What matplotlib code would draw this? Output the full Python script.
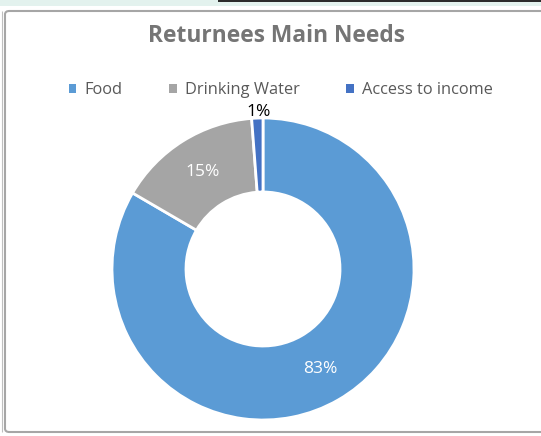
import matplotlib.pyplot as plt
from matplotlib.patches import FancyBboxPatch, Rectangle

# Data
categories = ["Food", "Drinking Water", "Access to income"]
shares = [83.4, 15.4, 1.2]
colors = ["#5B9BD5", "#A5A5A5", "#4472C4"]
label_colors = ["white", "white", "black"]

W, H = 541, 436
fig = plt.figure(figsize=(W / 100, H / 100), dpi=100)
plt.rcParams['font.family'] = ['Open Sans', 'DejaVu Sans']

# window chrome bits at the top
fig.patches.append(Rectangle((0, 1 - 6 / H), 1, 6 / H, transform=fig.transFigure,
                             facecolor="#E3F2EE", edgecolor="none", zorder=-2))
fig.patches.append(Rectangle((218 / W, 1 - 2 / H), 1, 2 / H, transform=fig.transFigure,
                             facecolor="#2B2B2B", edgecolor="none", zorder=-1))
# chart border
fig.patches.append(FancyBboxPatch((5 / W, 4 / H), 600 / W, 421 / H,
                                  boxstyle="round,pad=0,rounding_size=0.008",
                                  transform=fig.transFigure, facecolor="white",
                                  edgecolor="#A6A6A6", linewidth=1.5, zorder=-1))
fig.patches.append(Rectangle((1.5 / W, 4 / H), 0, 421 / H, transform=fig.transFigure,
                             facecolor="none", edgecolor="#BFBFBF", linewidth=0.8, zorder=-1))

# pie axes: centre (263, 269) px, radius 151 px
cx, cy, r = 263, 269, 151
ax = fig.add_axes([(cx - r) / W, (H - cy - r) / H, 2 * r / W, 2 * r / H])
ax.set_zorder(5)
ax.patch.set_visible(False)
wedges, texts, autotexts = ax.pie(
    shares, colors=colors, startangle=90, counterclock=False, radius=1,
    wedgeprops=dict(width=0.49, edgecolor="white", linewidth=2),
    autopct="%.0f%%", pctdistance=0.76,
    textprops=dict(fontsize=12.5))
for t, c in zip(autotexts, label_colors):
    t.set_color(c)
# small slice label sits outside the ring
autotexts[2].set_position((-0.03, 1.04))
ax.set_xlim(-1, 1)
ax.set_ylim(-1, 1)

fig.text(276 / W, 1 - 36 / H, "Returnees Main Needs", ha="center", va="center",
         fontsize=16.4, fontweight="bold", color="#757575")

handles = [Rectangle((0, 0), 1, 1, facecolor=c) for c in colors]
fig.legend(handles, categories, loc="center", bbox_to_anchor=(281 / W, 1 - 90 / H),
           ncol=3, frameon=False, fontsize=11.8, labelcolor="#595959",
           handlelength=0.45, handleheight=0.45, handletextpad=0.5, columnspacing=2.85)

fig.savefig("out.png", dpi=100)
